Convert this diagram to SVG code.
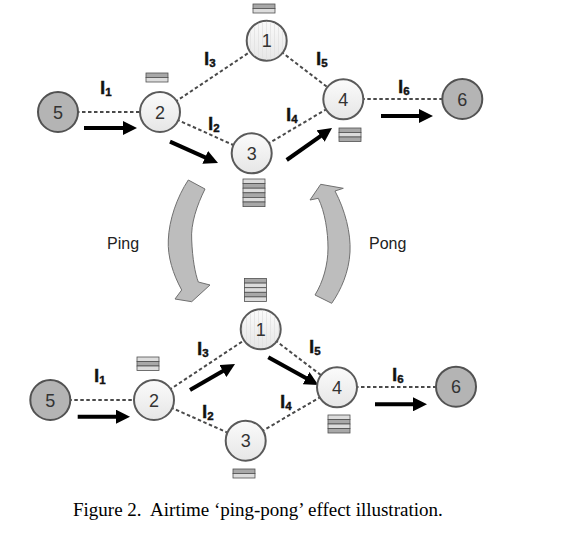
<svg xmlns="http://www.w3.org/2000/svg" width="579" height="538" viewBox="0 0 579 538">
<style>
.edge{stroke:#4a4a4a;stroke-width:2;stroke-dasharray:3.5 2.5;fill:none}
.nl{fill:url(#lg);stroke:#5a5a5a;stroke-width:2}
.nd{fill:#b4b4b4;stroke:#525252;stroke-width:2}
.num{font-family:"Liberation Sans",Arial,sans-serif;font-size:18px;fill:#333;text-anchor:middle}
.lab{font-family:"Liberation Sans",Arial,sans-serif;font-size:19px;font-weight:bold;fill:#111;stroke:#111;stroke-width:0.4}
.sub{font-size:11.5px}
.arr{stroke:#000;stroke-width:4;fill:none;marker-end:url(#ah)}
.qd{fill:#a8a8a8;stroke:#505050;stroke-width:0.8}
.ql{fill:#dcdcdc;stroke:#505050;stroke-width:0.8}
.curve{fill:#bdbdbd;stroke:#707070;stroke-width:1}
.txt{font-family:"Liberation Sans",Arial,sans-serif;font-size:16px;fill:#222}
</style>
<defs>
<linearGradient id="lg" x1="0" y1="0" x2="0" y2="1">
<stop offset="0" stop-color="#fbfbfb"/>
<stop offset="1" stop-color="#e6e6e6"/>
</linearGradient>
<pattern id="vs" width="4" height="4" patternUnits="userSpaceOnUse">
<rect x="2" y="0" width="0.7" height="4" fill="#e0e0e0"/>
</pattern>
<marker id="ah" markerUnits="userSpaceOnUse" markerWidth="14" markerHeight="14" refX="6" refY="7" orient="auto">
<path d="M0,0 L14,7 L0,14 Z" fill="#000"/>
</marker>
</defs>

<g id="connectors">
<line class="edge" x1="58" y1="112" x2="160" y2="112"/>
<line class="edge" x1="160" y1="112" x2="266.7" y2="40.7"/>
<line class="edge" x1="160" y1="112" x2="251.7" y2="153.3"/>
<line class="edge" x1="266.7" y1="40.7" x2="343.3" y2="99.3"/>
<line class="edge" x1="251.7" y1="153.3" x2="343.3" y2="99.3"/>
<line class="edge" x1="343.3" y1="99" x2="462.3" y2="99"/>

<line class="edge" x1="50.3" y1="400" x2="154" y2="400"/>
<line class="edge" x1="154" y1="400" x2="260.7" y2="329.3"/>
<line class="edge" x1="154" y1="400" x2="245.7" y2="440.7"/>
<line class="edge" x1="260.7" y1="329.3" x2="337" y2="387.3"/>
<line class="edge" x1="245.7" y1="440.7" x2="337" y2="387.3"/>
<line class="edge" x1="337" y1="387" x2="456" y2="387"/>

<line class="arr" x1="84" y1="128" x2="129" y2="128"/>
<line class="arr" x1="170" y1="141.7" x2="210.7" y2="159.8"/>
<line class="arr" x1="286.7" y1="160" x2="325.5" y2="132.6"/>
<line class="arr" x1="381" y1="116" x2="425" y2="116"/>

<line class="arr" x1="77.7" y1="416.7" x2="122" y2="416.7"/>
<line class="arr" x1="190" y1="390" x2="228.1" y2="368"/>
<line class="arr" x1="268.3" y1="357.3" x2="311.3" y2="381.1"/>
<line class="arr" x1="375" y1="404.3" x2="419" y2="404.3"/>

<path class="curve" d="M188.3,180 L205,189 C197,205 190.5,224 191.7,240 C192.5,259 195,273 198.3,282 L210,285 L191.7,301.7 L175,299 L181.7,290 C173,274 167.5,257 168.3,240 C169,220 177,197 188.3,180 Z"/>
<path class="curve" d="M320.7,184.3 L343.3,188.3 L335,191 C345,210 351,233 350,252 C349,272 341,290 331.7,303.3 L315,295 C323,282 328,265 328,248 C328,232 325,212 318.3,198.3 L310,200 Z"/>
</g>

<g id="top-graph">
<g id="t-n5"><circle class="nd" cx="58" cy="112" r="20"/><text class="num" x="58" y="118.5">5</text></g>
<g id="t-n2"><circle class="nl" cx="160" cy="112" r="20"/><text class="num" x="160" y="118.5">2</text></g>
<g id="t-n1"><circle class="nl" cx="266.7" cy="40.7" r="20"/><circle cx="266.7" cy="40.7" r="19" fill="url(#vs)"/><text class="num" x="266.7" y="47.2">1</text></g>
<g id="t-n3"><circle class="nl" cx="251.7" cy="153.3" r="20"/><text class="num" x="251.7" y="159.8">3</text></g>
<g id="t-n4"><circle class="nl" cx="343.3" cy="99.3" r="20"/><text class="num" x="343.3" y="105.8">4</text></g>
<g id="t-n6"><circle class="nd" cx="462.3" cy="99" r="20"/><text class="num" x="462.3" y="105.5">6</text></g>

<g id="t-labels">
<text class="lab" x="100" y="94">l<tspan class="sub" dy="1.5">1</tspan></text>
<text class="lab" x="204" y="65">l<tspan class="sub" dy="2">3</tspan></text>
<text class="lab" x="208" y="130">l<tspan class="sub" dy="1.5">2</tspan></text>
<text class="lab" x="316" y="65">l<tspan class="sub" dy="1.5">5</tspan></text>
<text class="lab" x="286" y="121">l<tspan class="sub" dy="1.5">4</tspan></text>
<text class="lab" x="398" y="93">l<tspan class="sub" dy="1.5">6</tspan></text>
</g>

<g id="t-q1"><rect class="qd" x="253" y="4" width="22" height="4.5"/><rect class="ql" x="253" y="8.5" width="22" height="4.5"/></g>
<g id="t-q2"><rect class="qd" x="146" y="73" width="22" height="4.5"/><rect class="ql" x="146" y="77.5" width="22" height="4.5"/></g>
<g id="t-q3">
<rect class="ql" x="243" y="179" width="22" height="4.6"/>
<rect class="qd" x="243" y="183.6" width="22" height="4.6"/>
<rect class="ql" x="243" y="188.2" width="22" height="4.6"/>
<rect class="qd" x="243" y="192.8" width="22" height="4.6"/>
<rect class="ql" x="243" y="197.4" width="22" height="4.6"/>
<rect class="qd" x="243" y="202" width="22" height="4.6"/>
</g>
<g id="t-q4">
<rect class="qd" x="339" y="128" width="22" height="4.5"/>
<rect class="ql" x="339" y="132.5" width="22" height="4.5"/>
<rect class="qd" x="339" y="137" width="22" height="4.5"/>
</g>
</g>

<g id="bottom-graph">
<g id="b-n5"><circle class="nd" cx="50.3" cy="400" r="20"/><text class="num" x="50.3" y="406.5">5</text></g>
<g id="b-n2"><circle class="nl" cx="154" cy="400" r="20"/><text class="num" x="154" y="406.5">2</text></g>
<g id="b-n1"><circle class="nl" cx="260.7" cy="329.3" r="20"/><circle cx="260.7" cy="329.3" r="19" fill="url(#vs)"/><text class="num" x="260.7" y="335.8">1</text></g>
<g id="b-n3"><circle class="nl" cx="245.7" cy="440.7" r="20"/><text class="num" x="245.7" y="447.2">3</text></g>
<g id="b-n4"><circle class="nl" cx="337" cy="387.3" r="20"/><text class="num" x="337" y="393.8">4</text></g>
<g id="b-n6"><circle class="nd" cx="456" cy="386.7" r="20"/><text class="num" x="456" y="393.2">6</text></g>

<g id="b-labels">
<text class="lab" x="94" y="382">l<tspan class="sub" dy="1.5">1</tspan></text>
<text class="lab" x="197" y="355">l<tspan class="sub" dy="2">3</tspan></text>
<text class="lab" x="202" y="418">l<tspan class="sub" dy="1.5">2</tspan></text>
<text class="lab" x="280" y="408">l<tspan class="sub" dy="1.5">4</tspan></text>
<text class="lab" x="309" y="353">l<tspan class="sub" dy="1.5">5</tspan></text>
<text class="lab" x="392" y="381">l<tspan class="sub" dy="1.5">6</tspan></text>
</g>

<g id="b-q1">
<rect class="qd" x="244.5" y="278.5" width="22" height="4.6"/>
<rect class="ql" x="244.5" y="283.1" width="22" height="4.6"/>
<rect class="ql" x="244.5" y="287.7" width="22" height="4.6"/>
<rect class="qd" x="244.5" y="292.3" width="22" height="4.6"/>
<rect class="ql" x="244.5" y="296.9" width="22" height="4.6"/>
</g>
<g id="b-q2">
<rect class="ql" x="137" y="357" width="22" height="4.5"/>
<rect class="qd" x="137" y="361.5" width="22" height="4.5"/>
<rect class="ql" x="137" y="366" width="22" height="4.5"/>
</g>
<g id="b-q3"><rect class="qd" x="233" y="469" width="22" height="4.5"/><rect class="ql" x="233" y="473.5" width="22" height="4.5"/></g>
<g id="b-q4">
<rect class="ql" x="328" y="415" width="22" height="4.5"/>
<rect class="qd" x="328" y="419.5" width="22" height="4.5"/>
<rect class="ql" x="328" y="424" width="22" height="4.5"/>
<rect class="qd" x="328" y="428.5" width="22" height="4.5"/>
</g>
</g>

<text class="txt" x="107" y="249">Ping</text>
<text class="txt" x="369" y="249">Pong</text>
<text x="73" y="516" font-family="'Liberation Serif','Times New Roman',serif" font-size="19" fill="#000" style="white-space:pre">Figure 2.  Airtime ‘ping-pong’ effect illustration.</text>
</svg>
